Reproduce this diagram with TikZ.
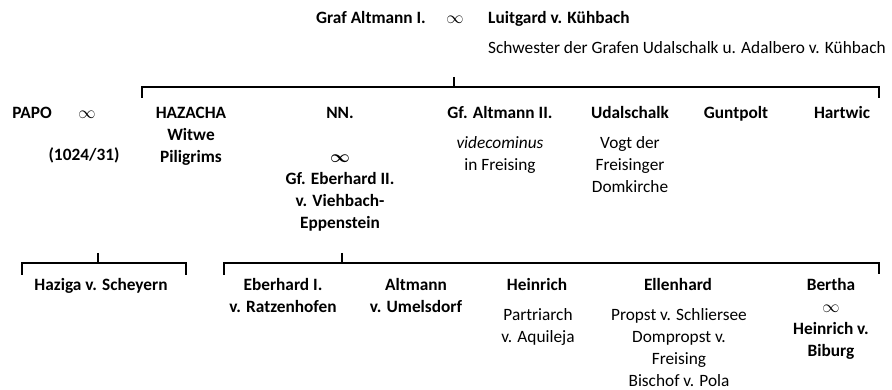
\documentclass[tikz,border=0pt]{standalone}
\usepackage{amsmath}
\usepackage{fontspec}
\setmainfont{Carlito}
\begin{document}
\begin{tikzpicture}[x=1pt,y=-1pt,
  every node/.style={inner sep=0pt, anchor=north, align=center, font=\fontsize{17.3}{22}\selectfont},
  nm/.style={font=\fontsize{17.3}{22}\selectfont\bfseries},
  ds/.style={font=\fontsize{17.3}{22}\selectfont},
  brk/.style={line width=1.3pt, black}]
\useasboundingbox (0,0) rectangle (892,390);
% first-line centre y minus 10 = node north
% top couple
\node[nm] (ga1) at (371,8) {\strut Graf Altmann I.};
\node[ds] (m0) at (455,8) {\strut$\infty$};
\node[nm, anchor=north west] (lui) at (488,8) {\strut Luitgard v. Kühbach};
\node[ds, anchor=north west] (schw) at (488,38) {\strut Schwester der Grafen Udalschalk u. Adalbero v. Kühbach};
% second generation
\node[nm] (papo) at (32,103) {\strut PAPO};
\node[ds] (m1) at (87,103) {\strut$\infty$};
\node[nm] (year) at (84,145) {\strut(1024/31)};
\node[nm] (haz) at (191,103) {\strut HAZACHA\\Witwe\\Piligrims};
\node[nm] (nn) at (340,103) {\strut NN.\\[22pt]$\boldsymbol{\infty}$\\Gf. Eberhard II.\\v. Viehbach-\\Eppenstein};
\node[nm] (ga2) at (500,103) {\strut Gf. Altmann II.};
\node[ds] (ga2d) at (500,133) {\strut\textit{videcominus}\\in Freising};
\node[nm] (uda) at (630,103) {\strut Udalschalk};
\node[ds] (udad) at (630,133) {\strut Vogt der\\Freisinger\\Domkirche};
\node[nm] (gun) at (736,103) {\strut Guntpolt};
\node[nm] (har) at (842,103) {\strut Hartwic};
% third generation
\node[nm] (haz2) at (101,275) {\strut Haziga v. Scheyern};
\node[nm] (ebe) at (283,275) {\strut Eberhard I.\\v. Ratzenhofen};
\node[nm] (alt) at (416,275) {\strut Altmann\\v. Umelsdorf};
\node[nm] (hei) at (537,275) {\strut Heinrich};
\node[ds] (heid) at (538,305) {\strut Partriarch\\v. Aquileja};
\node[nm] (ell) at (678,275) {\strut Ellenhard};
\node[ds] (elld) at (679,305) {\strut Propst v. Schliersee\\Dompropst v.\\Freising\\Bischof v. Pola};
\node[nm] (ber) at (831,275) {\strut Bertha\\$\infty$\\Heinrich v.\\Biburg};
% brackets
\coordinate (t0) at (454,77);
\coordinate (t1) at (454,87);
\coordinate (tl) at (142,98);
\coordinate (tr) at (879,98);
\draw[brk] (t0) -- (t1);
\draw[brk] (tl) |- (t1) -| (tr);
\coordinate (a0) at (98,253);
\coordinate (a1) at (98,263);
\coordinate (al) at (22,275);
\coordinate (ar) at (186,275);
\draw[brk] (a0) -- (a1);
\draw[brk] (al) |- (a1) -| (ar);
\coordinate (b0) at (342,253);
\coordinate (b1) at (342,263);
\coordinate (bl) at (224,275);
\coordinate (br) at (879,274);
\draw[brk] (b0) -- (b1);
\draw[brk] (bl) |- (b1) -| (br);
\end{tikzpicture}
\end{document}
